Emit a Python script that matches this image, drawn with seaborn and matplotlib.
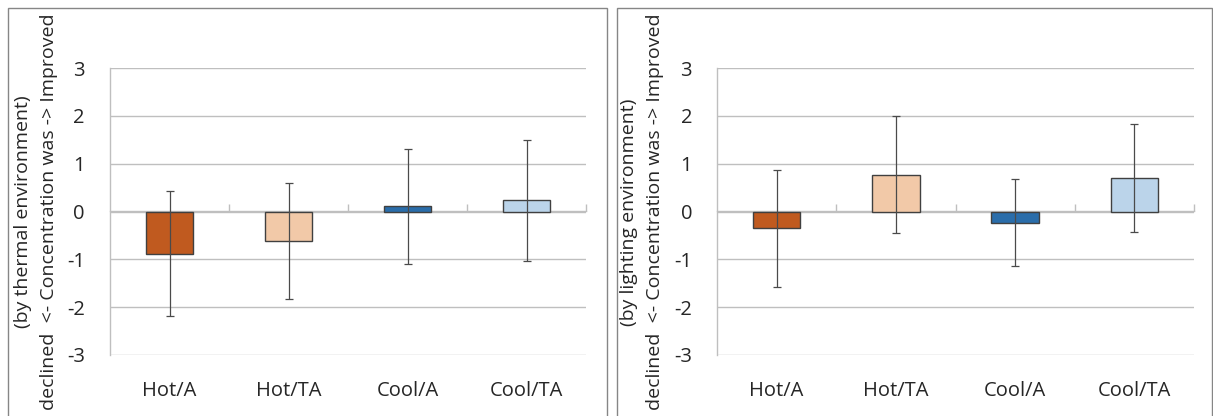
import pandas as pd
import matplotlib.pyplot as plt
import matplotlib.patches as mpatches
import seaborn as sns

# --- data ---
conditions = ['Hot/A', 'Hot/TA', 'Cool/A', 'Cool/TA']
colors = ['#C05A1F', '#F2C9A8', '#2A6DAA', '#BBD4EA']

thermal_mean = [-0.88, -0.61, 0.11, 0.23]
thermal_err = [1.30, 1.21, 1.20, 1.27]

lighting_mean = [-0.35, 0.77, -0.23, 0.70]
lighting_err = [1.22, 1.22, 0.91, 1.13]

sns.set_theme(style='white')
plt.rcParams['font.family'] = ['Open Sans', 'DejaVu Sans']

fig = plt.figure(figsize=(12.13, 4.16), dpi=100)
W, H = 1213, 416

grid_col = '#BFBFBF'
text_col = '#262626'
fs = 14.5


def draw_panel(rect, means, errs, label_x, env):
    ax = fig.add_axes(rect)
    df = pd.DataFrame({'cond': conditions, 'val': means})
    sns.barplot(data=df, x='cond', y='val', hue='cond', palette=colors,
                saturation=1, width=0.4, edgecolor='#404040', linewidth=1.0,
                legend=False, ax=ax, errorbar=None)
    ax.errorbar(range(len(conditions)), means, yerr=errs, fmt='none',
                ecolor='#4a4a4a', elinewidth=0.9, capsize=3, capthick=0.9)
    ax.set_xlim(-0.5, 3.5)
    ax.set_ylim(-3, 3)
    ax.set_yticks([-3, -2, -1, 0, 1, 2, 3])
    ax.set_yticklabels(['-3', '-2', '-1', '0', '1', '2', '3'])
    ax.yaxis.grid(True, color=grid_col, linewidth=1.0)
    ax.set_axisbelow(True)
    for s in ['top', 'right', 'bottom']:
        ax.spines[s].set_visible(False)
    ax.spines['left'].set_color(grid_col)
    ax.spines['left'].set_linewidth(1.0)
    ax.tick_params(axis='y', length=6, width=1.0, color=grid_col,
                   labelcolor=text_col, pad=12, labelsize=fs)
    ax.tick_params(axis='x', length=0, pad=19, labelsize=fs, labelcolor=text_col)
    ax.set_xlabel('')
    ax.set_ylabel('')

    # category axis crossing at zero, ticks between categories
    sec = ax.secondary_xaxis(0.5)
    sec.set_xticks([0.5, 1.5, 2.5, 3.5])
    sec.set_xticklabels([])
    sec.tick_params(length=5, width=1.0, color=grid_col, direction='out')
    for sp in sec.spines.values():
        sp.set_color(grid_col)
        sp.set_linewidth(1.0)

    fig.text(label_x / W, 1 - 212 / H,
             '(by %s environment)\ndeclined  <- Concentration was -> Improved' % env,
             rotation=90, ha='center', va='center', multialignment='center',
             fontsize=14, color=text_col, linespacing=1.55)
    return ax


top = 1 - 68 / H
bot = 1 - 355 / H
draw_panel([110 / W, bot, 476 / W, top - bot], thermal_mean, thermal_err, 36, 'thermal')
draw_panel([717 / W, bot, 477 / W, top - bot], lighting_mean, lighting_err, 642, 'lighting')

# chart frames
for x0, x1 in [(8, 607), (617, 1212)]:
    fig.patches.append(mpatches.Rectangle((x0 / W, -0.1), (x1 - x0) / W, 1.1 - 8 / H,
                                          transform=fig.transFigure, fill=False,
                                          edgecolor='#868686', linewidth=1.0))

fig.savefig('out.png', dpi=100)
